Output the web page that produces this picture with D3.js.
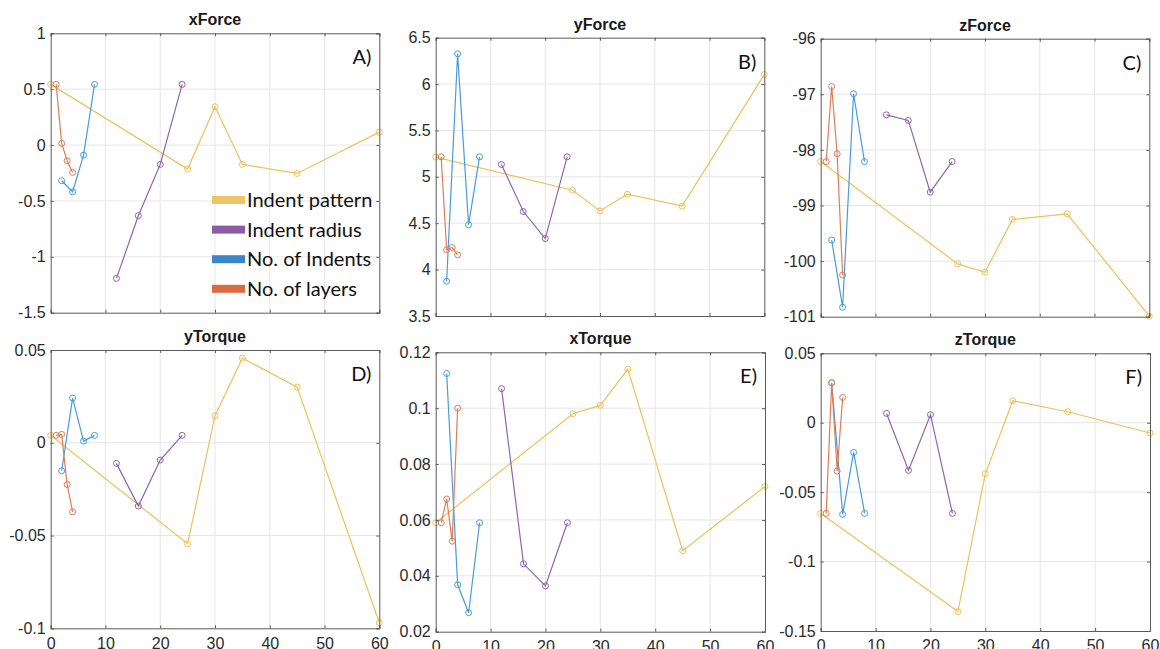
<!DOCTYPE html>
<html>
<head>
<meta charset="utf-8">
<script src="https://cdn.jsdelivr.net/npm/d3@7"></script>
<style>
  body { margin: 0; background: #fff; }
  svg { display: block; }
</style>
</head>
<body>
<svg id="chart" width="1160" height="649"></svg>
<script>
// series names + x positions of each parameter sweep
var seriesNames = ["Indent pattern", "Indent radius", "No. of Indents", "No. of layers"];
var xPattern = [0, 25, 30, 35, 45, 60];
var xRadius = [12, 16, 20, 24];
var xIndents = [2, 4, 6, 8];
var xLayers = [1, 2, 3, 4];
var xTicks = [0, 10, 20, 30, 40, 50, 60];

// values, order: pattern, radius, indents, layers
var xForceVals = [
  [0.543, -0.215, 0.343, -0.173, -0.254, 0.116],
  [-1.193, -0.632, -0.173, 0.543],
  [-0.319, -0.418, -0.09, 0.543],
  [0.543, 0.015, -0.14, -0.245]
];
var yForceVals = [
  [5.212, 4.856, 4.633, 4.813, 4.684, 6.103],
  [5.133, 4.626, 4.335, 5.216],
  [3.875, 6.326, 4.483, 5.216],
  [5.216, 4.213, 4.238, 4.159]
];
var zForceVals = [
  [-98.21, -100.05, -100.2, -99.25, -99.15, -100.99],
  [-97.37, -97.47, -98.76, -98.21],
  [-99.62, -100.83, -96.99, -98.21],
  [-98.21, -96.86, -98.07, -100.25]
];
var yTorqueVals = [
  [0.004, -0.0544, 0.0146, 0.0456, 0.03, -0.097],
  [-0.0111, -0.0341, -0.0093, 0.004],
  [-0.0151, 0.0241, 0.0009, 0.004],
  [0.004, 0.0045, -0.0225, -0.0372]
];
var xTorqueVals = [
  [0.059, 0.098, 0.101, 0.114, 0.049, 0.072],
  [0.107, 0.0443, 0.0364, 0.059],
  [0.1124, 0.0368, 0.0268, 0.059],
  [0.059, 0.0675, 0.0524, 0.1]
];
var zTorqueVals = [
  [-0.0653, -0.136, -0.0367, 0.0158, 0.0079, -0.0074],
  [0.0067, -0.0343, 0.0058, -0.0653],
  [0.0288, -0.066, -0.0214, -0.0653],
  [-0.0653, 0.0288, -0.0348, 0.0182]
];

// y tick values for each panel
var xForceTicks = [-1.5, -1, -0.5, 0, 0.5, 1];
var yForceTicks = [3.5, 4, 4.5, 5, 5.5, 6, 6.5];
var zForceTicks = [-101, -100, -99, -98, -97, -96];
var yTorqueTicks = [-0.1, -0.05, 0, 0.05];
var xTorqueTicks = [0.02, 0.04, 0.06, 0.08, 0.1, 0.12];
var zTorqueTicks = [-0.15, -0.1, -0.05, 0, 0.05];

var xSets = [xPattern, xRadius, xIndents, xLayers];
var lineColors = ["#eec15c", "#9163ad", "#4b9bd8", "#de7d57"];
var legendColors = ["#efc466", "#8c5ba7", "#3b84c8", "#d96c3f"];

// axes boxes: left, top, right, bottom
var panels = [
  {title: "xForce", tag: "A)", vals: xForceVals, ticks: xForceTicks, box: [50.7, 33.3, 379.3, 312.7], legend: true},
  {title: "yForce", tag: "B)", vals: yForceVals, ticks: yForceTicks, box: [435.7, 37.7, 764.3, 316]},
  {title: "zForce", tag: "C)", vals: zForceVals, ticks: zForceTicks, box: [820.7, 38.7, 1149.3, 316.7]},
  {title: "yTorque", tag: "D)", vals: yTorqueVals, ticks: yTorqueTicks, box: [50.7, 350, 379.3, 628.3], xLabels: true},
  {title: "xTorque", tag: "E)", vals: xTorqueVals, ticks: xTorqueTicks, box: [435.7, 352.3, 765, 631.7], xLabels: true},
  {title: "zTorque", tag: "F)", vals: zTorqueVals, ticks: zTorqueTicks, box: [820.7, 353.3, 1150, 631], xLabels: true}
];

var svg = d3.select("#chart");
var fmt = function(d) { return String(+d.toFixed(4)); };
var tickFont = "'Liberation Sans', Arial, Helvetica, sans-serif";

panels.forEach(function(p) {
  var left = p.box[0], top = p.box[1], right = p.box[2], bottom = p.box[3];

  var x = d3.scaleLinear().domain([0, 60]).range([left, right]);
  var y = d3.scaleLinear().domain(d3.extent(p.ticks)).range([bottom, top]);

  var g = svg.append("g");

  // grid
  g.append("g").selectAll("line").data(xTicks.slice(1, -1)).enter().append("line")
    .attr("x1", function(d) { return x(d); }).attr("x2", function(d) { return x(d); })
    .attr("y1", top).attr("y2", bottom)
    .attr("stroke", "#e6e6e6").attr("stroke-width", 1);
  g.append("g").selectAll("line").data(p.ticks.slice(1, -1)).enter().append("line")
    .attr("x1", left).attr("x2", right)
    .attr("y1", function(d) { return y(d); }).attr("y2", function(d) { return y(d); })
    .attr("stroke", "#e6e6e6").attr("stroke-width", 1);

  // series lines + open circle markers
  p.vals.forEach(function(vals, i) {
    var pts = vals.map(function(v, j) { return [xSets[i][j], v]; });
    var line = d3.line().x(function(d) { return x(d[0]); }).y(function(d) { return y(d[1]); });
    g.append("path").datum(pts).attr("d", line)
      .attr("fill", "none").attr("stroke", lineColors[i]).attr("stroke-width", 1.2);
    g.append("g").selectAll("circle").data(pts).enter().append("circle")
      .attr("cx", function(d) { return x(d[0]); })
      .attr("cy", function(d) { return y(d[1]); })
      .attr("r", 3)
      .attr("fill", "none").attr("stroke", lineColors[i]).attr("stroke-width", 1);
  });

  // axes (matlab style: inward ticks, box on)
  var axisColor = "#5a5a5a";
  var yAxis = g.append("g").attr("transform", "translate(" + left + ",0)")
    .call(d3.axisLeft(y).tickValues(p.ticks).tickSize(-3).tickPadding(5).tickFormat(fmt));
  var yAxisR = g.append("g").attr("transform", "translate(" + right + ",0)")
    .call(d3.axisRight(y).tickValues(p.ticks).tickSize(-3).tickFormat(""));
  var xAxis = g.append("g").attr("transform", "translate(0," + bottom + ")")
    .call(d3.axisBottom(x).tickValues(xTicks).tickSize(-3).tickPadding(9)
      .tickFormat(p.xLabels ? fmt : ""));
  var xAxisT = g.append("g").attr("transform", "translate(0," + top + ")")
    .call(d3.axisTop(x).tickValues(xTicks).tickSize(-3).tickFormat(""));

  [yAxis, yAxisR, xAxis, xAxisT].forEach(function(a) {
    a.selectAll("path, line").attr("stroke", axisColor);
    a.selectAll("text").attr("fill", "#2b2b2b")
      .style("font-family", tickFont).style("font-size", "16px");
  });

  // title
  g.append("text").attr("x", (left + right) / 2).attr("y", top - 13.5)
    .attr("text-anchor", "middle").attr("dy", "0.35em")
    .style("font-family", tickFont).style("font-size", "16px").style("font-weight", "bold")
    .attr("fill", "#1a1a1a").text(p.title);

  // panel letter
  g.append("text").attr("x", right - 8).attr("y", top + 24)
    .attr("text-anchor", "end").attr("dy", "0.35em")
    .style("font-family", "Lato, 'Open Sans', sans-serif").style("font-size", "20px")
    .attr("fill", "#111").text(p.tag);

  // legend only in the first panel
  if (p.legend) {
    var lg = g.append("g");
    seriesNames.forEach(function(name, i) {
      var ly = 200 + i * 29.6;
      lg.append("rect").attr("x", 212).attr("y", ly - 4).attr("width", 33).attr("height", 8)
        .attr("fill", legendColors[i]);
      lg.append("text").attr("x", 247).attr("y", ly).attr("dy", "0.35em")
        .style("font-family", "Lato, 'Open Sans', sans-serif").style("font-size", "20px")
        .attr("fill", "#111").text(name);
    });
  }
});
</script>
</body>
</html>
